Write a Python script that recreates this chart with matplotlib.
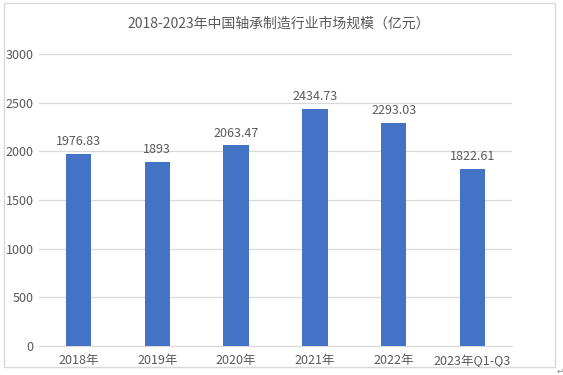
import matplotlib.pyplot as plt
from matplotlib.patches import Rectangle

plt.rcParams['font.family'] = ['Noto Sans CJK SC', 'DejaVu Sans']

# 数据
years = ["2018年", "2019年", "2020年", "2021年", "2022年", "2023年Q1-Q3"]
market_size = [1976.83, 1893, 2063.47, 2434.73, 2293.03, 1822.61]
value_labels = ["1976.83", "1893", "2063.47", "2434.73", "2293.03", "1822.61"]
y_ticks = [0, 500, 1000, 1500, 2000, 2500, 3000]

fig = plt.figure(figsize=(5.63, 3.75), dpi=100)
ax = fig.add_axes([0.0693, 0.0773, 0.8401, 0.7787])

x = range(len(years))
bars = ax.bar(x, market_size, width=0.32, color="#4472C4", zorder=3)

# 数值标签
for bar, lab in zip(bars, value_labels):
    ax.annotate(lab, (bar.get_x() + bar.get_width() / 2, bar.get_height()),
                xytext=(0, 4), textcoords="offset points",
                ha="center", va="bottom", fontsize=9, color="#595959")

ax.set_xlim(-0.5, len(years) - 0.5)
ax.set_ylim(0, 3000)
ax.set_yticks(y_ticks)
ax.set_xticks(list(x))
ax.set_xticklabels(years)
ax.tick_params(axis="both", length=0, labelsize=9, labelcolor="#595959")
ax.tick_params(axis="y", pad=4)
ax.tick_params(axis="x", pad=6)
ax.grid(axis="y", color="#D9D9D9", linewidth=0.9, zorder=0)
for side in ["top", "right", "left"]:
    ax.spines[side].set_visible(False)
ax.spines["bottom"].set_color("#D9D9D9")

fig.text(0.495, 0.938, "2018-2023年中国轴承制造行业市场规模（亿元）",
         ha="center", va="center", fontsize=10, color="#595959")

# 外边框
fig.patches.append(Rectangle((4 / 563, 1 - 367 / 375), 551 / 563, 364 / 375,
                             transform=fig.transFigure, fill=False,
                             edgecolor="#D9D9D9", linewidth=1))
fig.text(557 / 563, 1 - 371 / 375, "↵", fontsize=6, color="#808080",
         ha="left", va="center", family="DejaVu Sans")

fig.savefig("out.png", dpi=100)
